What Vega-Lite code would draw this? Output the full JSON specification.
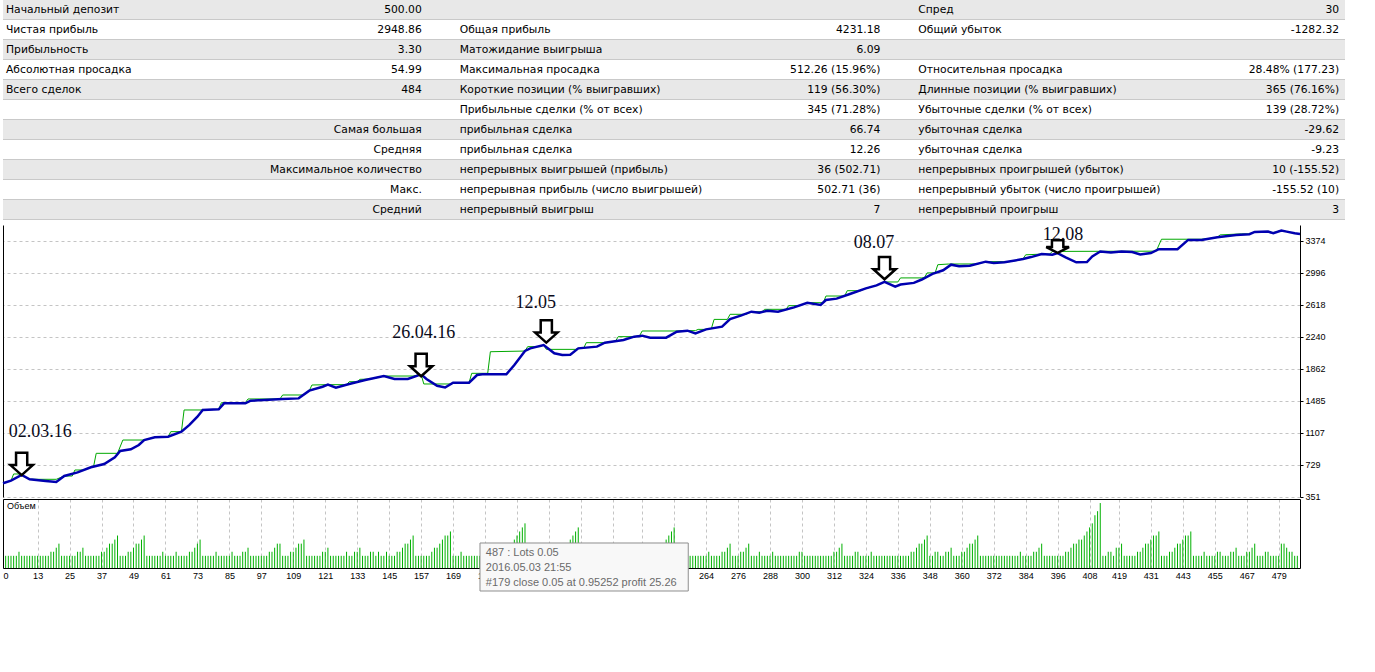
{
"$schema": "https://vega.github.io/schema/vega-lite/v6.json",
"padding": {"left": -2, "top": 0, "right": 0, "bottom": 0},
"background": "#ffffff",
"spacing": 2,
"bounds": "flush",
"config": {"font": "Liberation Sans", "view": {"stroke": null}},
"datasets": {
"stats": [
{"r":0,"g":"g1","label":"Начальный депозит","value":"500.00"},
{"r":0,"g":"g3","label":"Спред","value":"30"},
{"r":1,"g":"g1","label":"Чистая прибыль","value":"2948.86"},
{"r":1,"g":"g2","label":"Общая прибыль","value":"4231.18"},
{"r":1,"g":"g3","label":"Общий убыток","value":"-1282.32"},
{"r":2,"g":"g1","label":"Прибыльность","value":"3.30"},
{"r":2,"g":"g2","label":"Матожидание выигрыша","value":"6.09"},
{"r":3,"g":"g1","label":"Абсолютная просадка","value":"54.99"},
{"r":3,"g":"g2","label":"Максимальная просадка","value":"512.26 (15.96%)"},
{"r":3,"g":"g3","label":"Относительная просадка","value":"28.48% (177.23)"},
{"r":4,"g":"g1","label":"Всего сделок","value":"484"},
{"r":4,"g":"g2","label":"Короткие позиции (% выигравших)","value":"119 (56.30%)"},
{"r":4,"g":"g3","label":"Длинные позиции (% выигравших)","value":"365 (76.16%)"},
{"r":5,"g":"g2","label":"Прибыльные сделки (% от всех)","value":"345 (71.28%)"},
{"r":5,"g":"g3","label":"Убыточные сделки (% от всех)","value":"139 (28.72%)"},
{"r":6,"g":"g1","label":"","value":"Самая большая"},
{"r":6,"g":"g2","label":"прибыльная сделка","value":"66.74"},
{"r":6,"g":"g3","label":"убыточная сделка","value":"-29.62"},
{"r":7,"g":"g1","label":"","value":"Средняя"},
{"r":7,"g":"g2","label":"прибыльная сделка","value":"12.26"},
{"r":7,"g":"g3","label":"убыточная сделка","value":"-9.23"},
{"r":8,"g":"g1","label":"","value":"Максимальное количество"},
{"r":8,"g":"g2","label":"непрерывных выигрышей (прибыль)","value":"36 (502.71)"},
{"r":8,"g":"g3","label":"непрерывных проигрышей (убыток)","value":"10 (-155.52)"},
{"r":9,"g":"g1","label":"","value":"Макс."},
{"r":9,"g":"g2","label":"непрерывная прибыль (число выигрышей)","value":"502.71 (36)"},
{"r":9,"g":"g3","label":"непрерывный убыток (число проигрышей)","value":"-155.52 (10)"},
{"r":10,"g":"g1","label":"","value":"Средний"},
{"r":10,"g":"g2","label":"непрерывный выигрыш","value":"7"},
{"r":10,"g":"g3","label":"непрерывный проигрыш","value":"3"}
],
"bal": [{"t":0,"v":509},{"t":3,"v":540},{"t":7,"v":607},{"t":10,"v":556},{"t":16,"v":536},{"t":20,"v":524},{"t":23,"v":595},{"t":28,"v":638},{"t":33,"v":698},{"t":38,"v":737},{"t":42,"v":816},{"t":44,"v":890},{"t":48,"v":910},{"t":51,"v":961},{"t":53,"v":1020},{"t":57,"v":1052},{"t":62,"v":1060},{"t":67,"v":1119},{"t":70,"v":1198},{"t":73,"v":1296},{"t":75,"v":1375},{"t":81,"v":1383},{"t":83,"v":1453},{"t":91,"v":1453},{"t":93,"v":1485},{"t":98,"v":1493},{"t":105,"v":1505},{"t":111,"v":1512},{"t":115,"v":1603},{"t":120,"v":1650},{"t":122,"v":1674},{"t":125,"v":1639},{"t":130,"v":1682},{"t":136,"v":1729},{"t":143,"v":1776},{"t":147,"v":1741},{"t":152,"v":1741},{"t":157,"v":1796},{"t":159,"v":1741},{"t":163,"v":1660},{"t":166,"v":1640},{"t":169,"v":1698},{"t":175,"v":1698},{"t":178,"v":1788},{"t":180,"v":1796},{"t":189,"v":1796},{"t":192,"v":1906},{"t":196,"v":2072},{"t":198,"v":2103},{"t":203,"v":2142},{"t":207,"v":2044},{"t":210,"v":2024},{"t":213,"v":2028},{"t":216,"v":2103},{"t":223,"v":2123},{"t":226,"v":2170},{"t":233,"v":2201},{"t":237,"v":2241},{"t":240,"v":2253},{"t":243,"v":2229},{"t":249,"v":2229},{"t":253,"v":2300},{"t":257,"v":2312},{"t":260,"v":2280},{"t":264,"v":2327},{"t":270,"v":2359},{"t":273,"v":2449},{"t":277,"v":2489},{"t":281,"v":2536},{"t":284,"v":2524},{"t":287,"v":2548},{"t":291,"v":2536},{"t":297,"v":2587},{"t":302,"v":2642},{"t":307,"v":2615},{"t":309,"v":2674},{"t":313,"v":2690},{"t":318,"v":2745},{"t":324,"v":2812},{"t":328,"v":2847},{"t":331,"v":2887},{"t":335,"v":2831},{"t":337,"v":2857},{"t":342,"v":2876},{"t":345,"v":2916},{"t":349,"v":2982},{"t":353,"v":3025},{"t":356,"v":3091},{"t":359,"v":3072},{"t":363,"v":3080},{"t":369,"v":3127},{"t":372,"v":3111},{"t":376,"v":3119},{"t":383,"v":3158},{"t":386,"v":3181},{"t":390,"v":3216},{"t":394,"v":3209},{"t":396,"v":3228},{"t":399,"v":3177},{"t":403,"v":3119},{"t":407,"v":3123},{"t":409,"v":3189},{"t":412,"v":3248},{"t":416,"v":3236},{"t":420,"v":3248},{"t":424,"v":3240},{"t":427,"v":3212},{"t":431,"v":3228},{"t":434,"v":3275},{"t":441,"v":3275},{"t":445,"v":3384},{"t":450,"v":3384},{"t":456,"v":3416},{"t":463,"v":3443},{"t":468,"v":3451},{"t":470,"v":3478},{"t":475,"v":3482},{"t":477,"v":3462},{"t":480,"v":3494},{"t":482,"v":3482},{"t":485,"v":3462},{"t":487,"v":3455}],
"eq": [{"t":0,"v":509},{"t":3,"v":540},{"t":4,"v":619},{"t":6,"v":619},{"t":7,"v":607},{"t":10,"v":556},{"t":20,"v":556},{"t":23,"v":595},{"t":26,"v":595},{"t":27,"v":666},{"t":30,"v":666},{"t":33,"v":698},{"t":34,"v":705},{"t":35,"v":863},{"t":43,"v":863},{"t":45,"v":1020},{"t":53,"v":1020},{"t":57,"v":1052},{"t":62,"v":1060},{"t":63,"v":1119},{"t":67,"v":1119},{"t":68,"v":1375},{"t":75,"v":1375},{"t":81,"v":1383},{"t":82,"v":1461},{"t":91,"v":1461},{"t":92,"v":1505},{"t":104,"v":1505},{"t":105,"v":1552},{"t":113,"v":1552},{"t":115,"v":1603},{"t":116,"v":1670},{"t":122,"v":1674},{"t":129,"v":1674},{"t":130,"v":1709},{"t":133,"v":1709},{"t":134,"v":1737},{"t":138,"v":1740},{"t":143,"v":1776},{"t":154,"v":1776},{"t":157,"v":1796},{"t":158,"v":1682},{"t":168,"v":1682},{"t":169,"v":1698},{"t":175,"v":1698},{"t":176,"v":1808},{"t":182,"v":1808},{"t":183,"v":2063},{"t":196,"v":2071},{"t":197,"v":2123},{"t":202,"v":2123},{"t":203,"v":2142},{"t":204,"v":2091},{"t":215,"v":2091},{"t":216,"v":2103},{"t":218,"v":2103},{"t":219,"v":2170},{"t":226,"v":2170},{"t":230,"v":2188},{"t":231,"v":2241},{"t":237,"v":2241},{"t":239,"v":2250},{"t":240,"v":2308},{"t":252,"v":2308},{"t":257,"v":2312},{"t":260,"v":2312},{"t":261,"v":2327},{"t":264,"v":2327},{"t":266,"v":2338},{"t":267,"v":2445},{"t":272,"v":2445},{"t":273,"v":2505},{"t":279,"v":2505},{"t":281,"v":2536},{"t":285,"v":2536},{"t":286,"v":2564},{"t":294,"v":2564},{"t":295,"v":2607},{"t":299,"v":2607},{"t":302,"v":2642},{"t":308,"v":2642},{"t":309,"v":2721},{"t":316,"v":2721},{"t":317,"v":2784},{"t":322,"v":2784},{"t":324,"v":2812},{"t":328,"v":2847},{"t":331,"v":2887},{"t":336,"v":2887},{"t":337,"v":2935},{"t":345,"v":2935},{"t":346,"v":2940},{"t":347,"v":2994},{"t":350,"v":2994},{"t":351,"v":3091},{"t":355,"v":3099},{"t":366,"v":3100},{"t":369,"v":3127},{"t":378,"v":3127},{"t":381,"v":3143},{"t":383,"v":3158},{"t":384,"v":3208},{"t":390,"v":3216},{"t":393,"v":3216},{"t":394,"v":3248},{"t":433,"v":3251},{"t":435,"v":3392},{"t":450,"v":3392},{"t":453,"v":3400},{"t":456,"v":3416},{"t":457,"v":3443},{"t":465,"v":3455},{"t":468,"v":3455},{"t":470,"v":3478},{"t":471,"v":3482},{"t":475,"v":3482},{"t":477,"v":3470},{"t":480,"v":3494},{"t":482,"v":3482},{"t":485,"v":3462},{"t":487,"v":3455}],
"vol": [
{"t":1,"v":0.05},{"t":2,"v":0.05},{"t":3,"v":0.05},{"t":4,"v":0.05},{"t":5,"v":0.05},{"t":6,"v":0.06},{"t":7,"v":0.05},{"t":8,"v":0.05},{"t":9,"v":0.05},{"t":10,"v":0.05},
{"t":11,"v":0.05},{"t":12,"v":0.05},{"t":13,"v":0.05},{"t":14,"v":0.05},{"t":15,"v":0.05},{"t":16,"v":0.05},{"t":17,"v":0.05},{"t":18,"v":0.06},{"t":19,"v":0.06},{"t":20,"v":0.07},
{"t":21,"v":0.08},{"t":22,"v":0.05},{"t":23,"v":0.05},{"t":24,"v":0.05},{"t":25,"v":0.05},{"t":26,"v":0.05},{"t":27,"v":0.05},{"t":28,"v":0.06},{"t":29,"v":0.06},{"t":30,"v":0.07},
{"t":31,"v":0.05},{"t":32,"v":0.05},{"t":33,"v":0.05},{"t":34,"v":0.05},{"t":35,"v":0.05},{"t":36,"v":0.05},{"t":37,"v":0.06},{"t":38,"v":0.06},{"t":39,"v":0.07},{"t":40,"v":0.08},
{"t":41,"v":0.08},{"t":42,"v":0.09},{"t":43,"v":0.1},{"t":44,"v":0.05},{"t":45,"v":0.05},{"t":46,"v":0.05},{"t":47,"v":0.06},{"t":48,"v":0.06},{"t":49,"v":0.07},{"t":50,"v":0.08},
{"t":51,"v":0.08},{"t":52,"v":0.09},{"t":53,"v":0.1},{"t":54,"v":0.05},{"t":55,"v":0.05},{"t":56,"v":0.05},{"t":57,"v":0.05},{"t":58,"v":0.05},{"t":59,"v":0.05},{"t":60,"v":0.06},
{"t":61,"v":0.05},{"t":62,"v":0.05},{"t":63,"v":0.05},{"t":64,"v":0.05},{"t":65,"v":0.06},{"t":66,"v":0.05},{"t":67,"v":0.05},{"t":68,"v":0.05},{"t":69,"v":0.05},{"t":70,"v":0.06},
{"t":71,"v":0.06},{"t":72,"v":0.07},{"t":73,"v":0.08},{"t":74,"v":0.09},{"t":75,"v":0.05},{"t":76,"v":0.05},{"t":77,"v":0.05},{"t":78,"v":0.05},{"t":79,"v":0.05},{"t":80,"v":0.06},
{"t":81,"v":0.05},{"t":82,"v":0.05},{"t":83,"v":0.05},{"t":84,"v":0.05},{"t":85,"v":0.05},{"t":86,"v":0.06},{"t":87,"v":0.05},{"t":88,"v":0.05},{"t":89,"v":0.05},{"t":90,"v":0.06},
{"t":91,"v":0.06},{"t":92,"v":0.07},{"t":93,"v":0.05},{"t":94,"v":0.05},{"t":95,"v":0.05},{"t":96,"v":0.05},{"t":97,"v":0.05},{"t":98,"v":0.05},{"t":99,"v":0.05},{"t":100,"v":0.06},
{"t":101,"v":0.06},{"t":102,"v":0.07},{"t":103,"v":0.08},{"t":104,"v":0.08},{"t":105,"v":0.05},{"t":106,"v":0.05},{"t":107,"v":0.05},{"t":108,"v":0.06},{"t":109,"v":0.06},{"t":110,"v":0.07},
{"t":111,"v":0.08},{"t":112,"v":0.08},{"t":113,"v":0.09},{"t":114,"v":0.05},{"t":115,"v":0.05},{"t":116,"v":0.05},{"t":117,"v":0.05},{"t":118,"v":0.05},{"t":119,"v":0.05},{"t":120,"v":0.06},
{"t":121,"v":0.06},{"t":122,"v":0.07},{"t":123,"v":0.05},{"t":124,"v":0.05},{"t":125,"v":0.05},{"t":126,"v":0.05},{"t":127,"v":0.05},{"t":128,"v":0.05},{"t":129,"v":0.06},{"t":130,"v":0.05},
{"t":131,"v":0.05},{"t":132,"v":0.06},{"t":133,"v":0.06},{"t":134,"v":0.07},{"t":135,"v":0.05},{"t":136,"v":0.05},{"t":137,"v":0.05},{"t":138,"v":0.06},{"t":139,"v":0.06},{"t":140,"v":0.05},
{"t":141,"v":0.06},{"t":142,"v":0.05},{"t":143,"v":0.05},{"t":144,"v":0.06},{"t":145,"v":0.05},{"t":146,"v":0.05},{"t":147,"v":0.05},{"t":148,"v":0.06},{"t":149,"v":0.06},{"t":150,"v":0.07},
{"t":151,"v":0.08},{"t":152,"v":0.08},{"t":153,"v":0.09},{"t":154,"v":0.1},{"t":155,"v":0.05},{"t":156,"v":0.05},{"t":157,"v":0.05},{"t":158,"v":0.05},{"t":159,"v":0.05},{"t":160,"v":0.05},
{"t":161,"v":0.06},{"t":162,"v":0.07},{"t":163,"v":0.07},{"t":164,"v":0.08},{"t":165,"v":0.09},{"t":166,"v":0.1},{"t":167,"v":0.1},{"t":168,"v":0.11},{"t":169,"v":0.05},{"t":170,"v":0.05},
{"t":171,"v":0.05},{"t":172,"v":0.06},{"t":173,"v":0.05},{"t":174,"v":0.05},{"t":175,"v":0.05},{"t":176,"v":0.05},{"t":177,"v":0.05},{"t":178,"v":0.05},{"t":179,"v":0.05},{"t":180,"v":0.05},
{"t":181,"v":0.05},{"t":182,"v":0.05},{"t":183,"v":0.05},{"t":184,"v":0.05},{"t":185,"v":0.05},{"t":186,"v":0.05},{"t":187,"v":0.05},{"t":188,"v":0.05},{"t":189,"v":0.06},{"t":190,"v":0.07},
{"t":191,"v":0.08},{"t":192,"v":0.09},{"t":193,"v":0.1},{"t":194,"v":0.11},{"t":195,"v":0.12},{"t":196,"v":0.13},{"t":197,"v":0.05},{"t":198,"v":0.05},{"t":199,"v":0.05},{"t":200,"v":0.05},
{"t":201,"v":0.05},{"t":202,"v":0.05},{"t":203,"v":0.05},{"t":204,"v":0.05},{"t":205,"v":0.05},{"t":206,"v":0.05},{"t":207,"v":0.05},{"t":208,"v":0.05},{"t":209,"v":0.05},{"t":210,"v":0.06},
{"t":211,"v":0.07},{"t":212,"v":0.08},{"t":213,"v":0.09},{"t":214,"v":0.1},{"t":215,"v":0.11},{"t":216,"v":0.12},{"t":217,"v":0.05},{"t":218,"v":0.05},{"t":219,"v":0.05},{"t":220,"v":0.05},
{"t":221,"v":0.05},{"t":222,"v":0.05},{"t":223,"v":0.05},{"t":224,"v":0.05},{"t":225,"v":0.06},{"t":226,"v":0.07},{"t":227,"v":0.08},{"t":228,"v":0.05},{"t":229,"v":0.05},{"t":230,"v":0.05},
{"t":231,"v":0.05},{"t":232,"v":0.05},{"t":233,"v":0.05},{"t":234,"v":0.05},{"t":235,"v":0.05},{"t":236,"v":0.05},{"t":237,"v":0.06},{"t":238,"v":0.07},{"t":239,"v":0.08},{"t":240,"v":0.05},
{"t":241,"v":0.05},{"t":242,"v":0.05},{"t":243,"v":0.05},{"t":244,"v":0.05},{"t":245,"v":0.05},{"t":246,"v":0.06},{"t":247,"v":0.07},{"t":248,"v":0.08},{"t":249,"v":0.09},{"t":250,"v":0.1},
{"t":251,"v":0.11},{"t":252,"v":0.12},{"t":253,"v":0.05},{"t":254,"v":0.05},{"t":255,"v":0.05},{"t":256,"v":0.05},{"t":257,"v":0.05},{"t":258,"v":0.05},{"t":259,"v":0.05},{"t":260,"v":0.05},
{"t":261,"v":0.05},{"t":262,"v":0.05},{"t":263,"v":0.05},{"t":264,"v":0.05},{"t":265,"v":0.06},{"t":266,"v":0.05},{"t":267,"v":0.05},{"t":268,"v":0.05},{"t":269,"v":0.05},{"t":270,"v":0.06},
{"t":271,"v":0.06},{"t":272,"v":0.07},{"t":273,"v":0.08},{"t":274,"v":0.05},{"t":275,"v":0.05},{"t":276,"v":0.05},{"t":277,"v":0.06},{"t":278,"v":0.06},{"t":279,"v":0.07},{"t":280,"v":0.08},
{"t":281,"v":0.05},{"t":282,"v":0.05},{"t":283,"v":0.05},{"t":284,"v":0.06},{"t":285,"v":0.05},{"t":286,"v":0.05},{"t":287,"v":0.05},{"t":288,"v":0.05},{"t":289,"v":0.06},{"t":290,"v":0.05},
{"t":291,"v":0.05},{"t":292,"v":0.05},{"t":293,"v":0.05},{"t":294,"v":0.05},{"t":295,"v":0.05},{"t":296,"v":0.05},{"t":297,"v":0.05},{"t":298,"v":0.05},{"t":299,"v":0.06},{"t":300,"v":0.06},
{"t":301,"v":0.05},{"t":302,"v":0.05},{"t":303,"v":0.05},{"t":304,"v":0.05},{"t":305,"v":0.05},{"t":306,"v":0.05},{"t":307,"v":0.05},{"t":308,"v":0.05},{"t":309,"v":0.05},{"t":310,"v":0.05},
{"t":311,"v":0.05},{"t":312,"v":0.06},{"t":313,"v":0.06},{"t":314,"v":0.07},{"t":315,"v":0.08},{"t":316,"v":0.05},{"t":317,"v":0.05},{"t":318,"v":0.05},{"t":319,"v":0.05},{"t":320,"v":0.06},
{"t":321,"v":0.06},{"t":322,"v":0.05},{"t":323,"v":0.05},{"t":324,"v":0.05},{"t":325,"v":0.05},{"t":326,"v":0.06},{"t":327,"v":0.05},{"t":328,"v":0.05},{"t":329,"v":0.05},{"t":330,"v":0.05},
{"t":331,"v":0.05},{"t":332,"v":0.05},{"t":333,"v":0.05},{"t":334,"v":0.05},{"t":335,"v":0.05},{"t":336,"v":0.05},{"t":337,"v":0.05},{"t":338,"v":0.05},{"t":339,"v":0.05},{"t":340,"v":0.05},
{"t":341,"v":0.06},{"t":342,"v":0.06},{"t":343,"v":0.07},{"t":344,"v":0.08},{"t":345,"v":0.08},{"t":346,"v":0.09},{"t":347,"v":0.1},{"t":348,"v":0.05},{"t":349,"v":0.05},{"t":350,"v":0.06},
{"t":351,"v":0.06},{"t":352,"v":0.05},{"t":353,"v":0.05},{"t":354,"v":0.06},{"t":355,"v":0.06},{"t":356,"v":0.07},{"t":357,"v":0.05},{"t":358,"v":0.05},{"t":359,"v":0.05},{"t":360,"v":0.06},
{"t":361,"v":0.06},{"t":362,"v":0.07},{"t":363,"v":0.08},{"t":364,"v":0.08},{"t":365,"v":0.09},{"t":366,"v":0.1},{"t":367,"v":0.05},{"t":368,"v":0.05},{"t":369,"v":0.05},{"t":370,"v":0.05},
{"t":371,"v":0.05},{"t":372,"v":0.05},{"t":373,"v":0.05},{"t":374,"v":0.05},{"t":375,"v":0.05},{"t":376,"v":0.05},{"t":377,"v":0.05},{"t":378,"v":0.05},{"t":379,"v":0.05},{"t":380,"v":0.05},
{"t":381,"v":0.05},{"t":382,"v":0.06},{"t":383,"v":0.05},{"t":384,"v":0.05},{"t":385,"v":0.05},{"t":386,"v":0.05},{"t":387,"v":0.06},{"t":388,"v":0.06},{"t":389,"v":0.07},{"t":390,"v":0.08},
{"t":391,"v":0.05},{"t":392,"v":0.05},{"t":393,"v":0.05},{"t":394,"v":0.05},{"t":395,"v":0.05},{"t":396,"v":0.05},{"t":397,"v":0.05},{"t":398,"v":0.05},{"t":399,"v":0.06},{"t":400,"v":0.06},
{"t":401,"v":0.07},{"t":402,"v":0.08},{"t":403,"v":0.08},{"t":404,"v":0.09},{"t":405,"v":0.09},{"t":406,"v":0.1},{"t":407,"v":0.11},{"t":408,"v":0.12},{"t":409,"v":0.13},{"t":410,"v":0.15},
{"t":411,"v":0.16},{"t":412,"v":0.18},{"t":413,"v":0.05},{"t":414,"v":0.05},{"t":415,"v":0.06},{"t":416,"v":0.06},{"t":417,"v":0.05},{"t":418,"v":0.07},{"t":419,"v":0.07},{"t":420,"v":0.08},
{"t":421,"v":0.05},{"t":422,"v":0.05},{"t":423,"v":0.05},{"t":424,"v":0.05},{"t":425,"v":0.05},{"t":426,"v":0.06},{"t":427,"v":0.06},{"t":428,"v":0.07},{"t":429,"v":0.08},{"t":430,"v":0.08},
{"t":431,"v":0.09},{"t":432,"v":0.1},{"t":433,"v":0.1},{"t":434,"v":0.11},{"t":435,"v":0.05},{"t":436,"v":0.05},{"t":437,"v":0.05},{"t":438,"v":0.06},{"t":439,"v":0.06},{"t":440,"v":0.07},
{"t":441,"v":0.08},{"t":442,"v":0.08},{"t":443,"v":0.09},{"t":444,"v":0.1},{"t":445,"v":0.1},{"t":446,"v":0.11},{"t":447,"v":0.05},{"t":448,"v":0.05},{"t":449,"v":0.05},{"t":450,"v":0.05},
{"t":451,"v":0.06},{"t":452,"v":0.05},{"t":453,"v":0.05},{"t":454,"v":0.05},{"t":455,"v":0.05},{"t":456,"v":0.06},{"t":457,"v":0.06},{"t":458,"v":0.05},{"t":459,"v":0.05},{"t":460,"v":0.05},
{"t":461,"v":0.06},{"t":462,"v":0.06},{"t":463,"v":0.07},{"t":464,"v":0.05},{"t":465,"v":0.05},{"t":466,"v":0.05},{"t":467,"v":0.06},{"t":468,"v":0.06},{"t":469,"v":0.07},{"t":470,"v":0.08},
{"t":471,"v":0.05},{"t":472,"v":0.05},{"t":473,"v":0.05},{"t":474,"v":0.06},{"t":475,"v":0.06},{"t":476,"v":0.05},{"t":477,"v":0.05},{"t":478,"v":0.05},{"t":479,"v":0.05},{"t":480,"v":0.08},
{"t":481,"v":0.08},{"t":482,"v":0.07},{"t":483,"v":0.06},{"t":484,"v":0.06},{"t":485,"v":0.05},{"t":486,"v":0.05}
],
"dates": [{"label":"02.03.16","t":14,"v":1115},{"label":"26.04.16","t":158,"v":2284},{"label":"12.05","t":200,"v":2638},{"label":"08.07","t":327,"v":3347},{"label":"12.08","t":398,"v":3441}],
"arrows": [{"label":"02.03.16","t":7,"v":737},{"label":"26.04.16","t":157,"v":1906},{"label":"12.05","t":204,"v":2302},{"label":"08.07","t":331,"v":3051},{"label":"12.08","t":396,"v":3306}],
"tip": [{"x1":179.1,"x2":257.3,"y1":0.0816,"y2":-0.0367}],
"notes": [{"t":1.5,"v":0.172,"txt":"Объем","c":"panel"},{"t":181.3,"v":0.057,"txt":"487 : Lots 0.05","c":"tip"},{"t":181.3,"v":0.02,"txt":"2016.05.03 21:55","c":"tip"},{"t":181.3,"v":-0.017,"txt":"#179 close 0.05 at 0.95252 profit 25.26","c":"tip"}]
},
"vconcat": [
{
"width": 1342, "height": 223,
"data": {"name": "stats"},
"encoding": {"y": {"field": "r", "type": "ordinal", "axis": null, "scale": {"range": [0, 220], "paddingInner": 0, "paddingOuter": 0}}},
"layer": [
{"mark": {"type": "rect"}, "encoding": {"fill": {"condition": {"test": "datum.r % 2 === 0", "value": "#e8e8e8"}, "value": "#ffffff"}}},
{"mark": {"type": "rule", "color": "#c9c9c9", "strokeWidth": 1, "yOffset": -0.5}, "encoding": {"y": {"field": "r", "type": "ordinal", "bandPosition": 1, "axis": null}}},
{"transform": [{"filter": "datum.label != '' && datum.g == 'g1'"}], "mark": {"type": "text", "align": "left", "baseline": "middle", "font": "DejaVu Sans", "fontSize": 10.75, "color": "#000000", "dx": 7},
 "encoding": {"x": {"field": "g", "type": "nominal", "bandPosition": 0, "axis": null, "scale": {"type": "band", "domain": ["g1","g2","g3"], "range": [-4, 1372], "paddingInner": 0, "paddingOuter": 0}}, "text": {"field": "label"}}},
{"transform": [{"filter": "datum.label != '' && datum.g != 'g1'"}], "mark": {"type": "text", "align": "left", "baseline": "middle", "font": "DejaVu Sans", "fontSize": 10.75, "color": "#000000", "dx": 2},
 "encoding": {"x": {"field": "g", "type": "nominal", "bandPosition": 0, "axis": null}, "text": {"field": "label"}}},
{"transform": [{"filter": "datum.value != ''"}], "mark": {"type": "text", "align": "right", "baseline": "middle", "font": "DejaVu Sans", "fontSize": 10.75, "color": "#000000"},
 "encoding": {"x": {"field": "g", "type": "nominal", "bandPosition": 0.9218, "axis": null}, "text": {"field": "value"}}}
]
},
{
"width": 1297, "height": 272,
"resolve": {"axis": {"y": "independent"}},
"layer": [
{"data": {"name": "eq"}, "mark": {"type": "line", "color": "#00a800", "strokeWidth": 1},
 "encoding": {
  "x": {"field": "t", "type": "quantitative", "scale": {"domain": [0, 487], "nice": false, "zero": false},
        "axis": {"orient": "bottom", "values": [0,13,25,37,49,61,73,85,97,109,121,133,145,157,169,181,193,205,217,229,240,252,264,276,288,300,312,324,336,348,360,372,384,396,408,419,431,443,455,467,479], "labels": false, "ticks": false, "domain": true, "domainColor": "#000000", "grid": true, "gridColor": "#c4c4c4", "gridDash": [3, 3], "title": null}},
  "y": {"field": "v", "type": "quantitative", "scale": {"domain": [347, 3560], "nice": false, "zero": false},
        "axis": {"orient": "right", "values": [351,729,1107,1485,1862,2240,2618,2996,3374], "format": "d", "grid": true, "gridColor": "#c4c4c4", "gridDash": [3, 3], "domainColor": "#000000", "tickColor": "#000000", "tickSize": 3, "labelPadding": 2, "labelFont": "Liberation Sans", "labelFontSize": 9, "labelColor": "#000000", "title": null}}
 }},
{"data": {"name": "bal"}, "mark": {"type": "line", "color": "#0000b0", "strokeWidth": 2.5},
 "encoding": {
  "x": {"field": "t", "type": "quantitative", "axis": null},
  "y": {"field": "v", "type": "quantitative", "axis": {"orient": "left", "labels": false, "ticks": false, "grid": false, "domain": true, "domainColor": "#000000", "title": null}}
 }},
{"data": {"name": "dates"}, "mark": {"type": "text", "font": "Liberation Serif", "fontSize": 18, "color": "#0a0a1a", "align": "center", "baseline": "middle"},
 "encoding": {"x": {"field": "t", "type": "quantitative", "axis": null}, "y": {"field": "v", "type": "quantitative", "axis": null}, "text": {"field": "label"}}},
{"data": {"name": "arrows"}, "transform": [{"filter": "datum.label != '12.08'"}],
 "mark": {"type": "point", "shape": "M-0.5,-1L0.5,-1L0.5,0.1L1,0.1L0,1L-1,0.1L-0.5,0.1Z", "size": 500, "filled": true, "fill": "#ffffff", "stroke": "#000000", "strokeWidth": 2.5, "opacity": 1},
 "encoding": {"x": {"field": "t", "type": "quantitative", "axis": null}, "y": {"field": "v", "type": "quantitative", "axis": null}}},
{"data": {"name": "arrows"}, "transform": [{"filter": "datum.label == '12.08'"}],
 "mark": {"type": "point", "shape": "M-0.5,-0.55L0.5,-0.55L0.5,0.05L1,0.05L0,0.55L-1,0.05L-0.5,0.05Z", "size": 520, "filled": true, "fill": "#ffffff", "stroke": "#000000", "strokeWidth": 2.5, "opacity": 1},
 "encoding": {"x": {"field": "t", "type": "quantitative", "axis": null}, "y": {"field": "v", "type": "quantitative", "axis": null}}}
]
},
{
"width": 1297, "height": 69,
"resolve": {"axis": {"x": "independent", "y": "independent"}},
"layer": [
{"data": {"name": "vol"}, "mark": {"type": "rule", "color": "#00b000", "strokeWidth": 1},
 "encoding": {
  "x": {"field": "t", "type": "quantitative", "scale": {"domain": [0, 487], "nice": false, "zero": false},
        "axis": {"orient": "bottom", "values": [0,13,25,37,49,61,73,85,97,109,121,133,145,157,169,181,193,205,217,229,240,252,264,276,288,300,312,324,336,348,360,372,384,396,408,419,431,443,455,467,479], "labelExpr": "datum.value > 185 && datum.value < 258 ? '' : datum.label", "grid": true, "gridColor": "#c4c4c4", "gridDash": [3, 3], "domain": true, "domainColor": "#000000", "ticks": false, "labelPadding": 3, "labelFontSize": 9, "labelColor": "#000000", "labelFlush": true, "title": null}},
  "y": {"field": "v", "type": "quantitative", "scale": {"domain": [0.02, 0.19], "nice": false, "zero": false},
        "axis": {"orient": "left", "labels": false, "ticks": false, "grid": false, "domain": true, "domainColor": "#000000", "title": null}},
  "y2": {"datum": 0.02}
 }},
{"data": {"name": "tip"}, "mark": {"type": "rect", "fill": "#f8f8f8", "stroke": "#8f8f8f", "strokeWidth": 1},
 "encoding": {
  "x": {"field": "x1", "type": "quantitative", "axis": {"orient": "top", "labels": false, "ticks": false, "grid": false, "domain": true, "domainColor": "#000000", "title": null}},
  "x2": {"field": "x2"},
  "y": {"field": "y1", "type": "quantitative", "axis": {"orient": "right", "labels": false, "ticks": false, "grid": false, "domain": true, "domainColor": "#000000", "title": null}},
  "y2": {"field": "y2"}
 }},
{"data": {"name": "notes"}, "transform": [{"filter": "datum.c == 'tip'"}], "mark": {"type": "text", "align": "left", "baseline": "middle", "font": "Liberation Sans", "fontSize": 11, "color": "#6a6a6a"},
 "encoding": {"x": {"field": "t", "type": "quantitative", "axis": null}, "y": {"field": "v", "type": "quantitative", "axis": null}, "text": {"field": "txt"}}},
{"data": {"name": "notes"}, "transform": [{"filter": "datum.c == 'panel'"}], "mark": {"type": "text", "align": "left", "baseline": "middle", "font": "Liberation Sans", "fontSize": 9, "color": "#000000"},
 "encoding": {"x": {"field": "t", "type": "quantitative", "axis": null}, "y": {"field": "v", "type": "quantitative", "axis": null}, "text": {"field": "txt"}}}
]
}
]
}
